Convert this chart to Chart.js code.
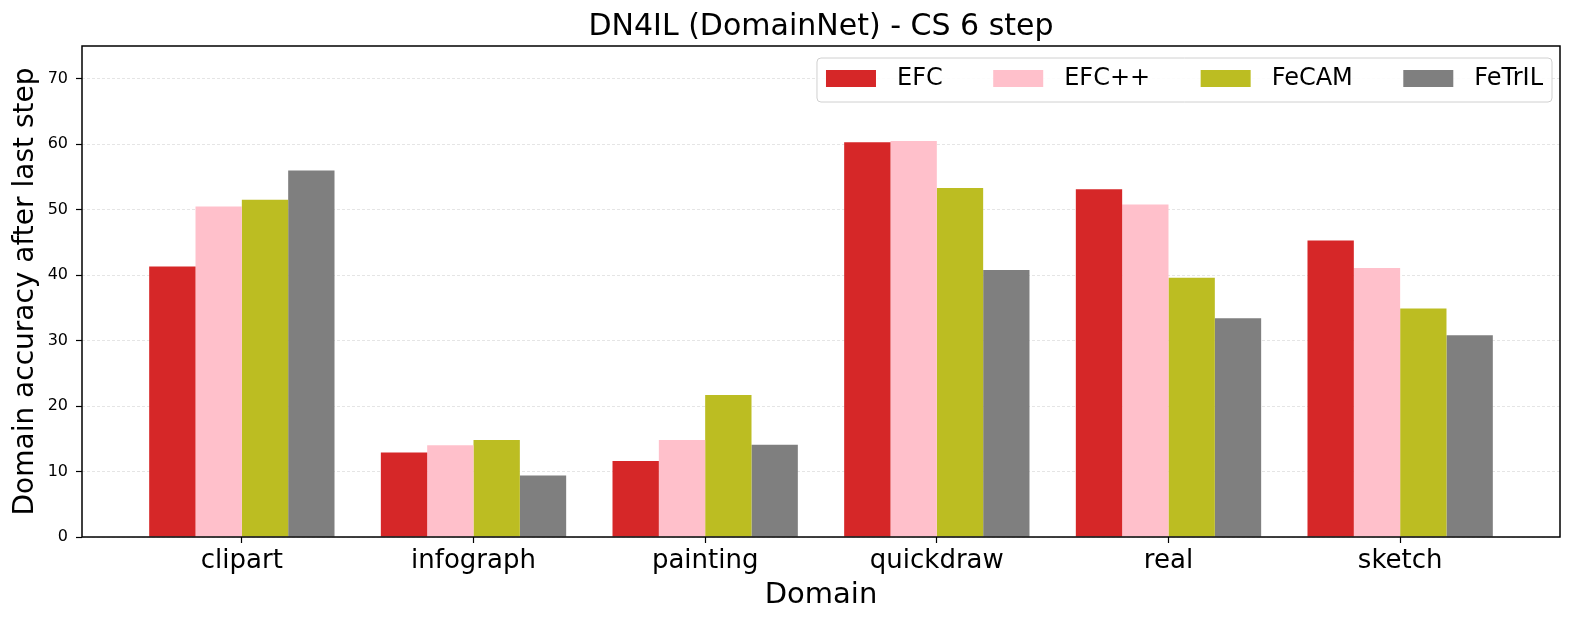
<!DOCTYPE html>
<html>
<head>
<meta charset="utf-8">
<script src="https://cdn.jsdelivr.net/npm/chart.js@4"></script>
<style>
  body { margin: 0; background: #fff; }
  #wrap { width: 1577px; height: 624px; }
</style>
</head>
<body>
<div id="wrap"><canvas id="chart"></canvas></div>
<script>
// DN4IL (DomainNet) - CS 6 step, accuracy per domain after the last step
const domains = ['clipart', 'infograph', 'painting', 'quickdraw', 'real', 'sketch'];
const efc    = [41.3, 12.9, 11.6, 60.3, 53.1, 45.3];
const efcpp  = [50.5, 14.0, 14.8, 60.5, 50.8, 41.1];
const fecam  = [51.5, 14.8, 21.7, 53.3, 39.6, 34.9];
const fetril = [56.0,  9.4, 14.1, 40.8, 33.4, 30.8];
const yTicks = [0, 10, 20, 30, 40, 50, 60, 70];
const chartTitle = 'DN4IL (DomainNet) - CS 6 step';

const FONT = '"DejaVu Sans", sans-serif';

function series(label, values, color) {
    return {
        label: label,
        data: values.map((v, i) => ({ x: i, y: v })),
        backgroundColor: color,
        borderWidth: 0,
        categoryPercentage: 0.8,
        barPercentage: 1.0
    };
}

// title centred over the plot, frame around the plot, legend box in the top right corner
const framePlugin = {
    id: 'frameAndLegend',
    afterDraw(chart) {
        const ctx = chart.ctx;
        const a = chart.chartArea;
        ctx.save();

        ctx.fillStyle = '#000';
        ctx.font = '30px ' + FONT;
        ctx.textAlign = 'center';
        ctx.textBaseline = 'middle';
        ctx.fillText(chartTitle, (a.left + a.right) / 2, 27);

        ctx.strokeStyle = '#000';
        ctx.lineWidth = 1.5;
        ctx.strokeRect(a.left, a.top, a.right - a.left, a.bottom - a.top);

        // legend
        ctx.font = '24px ' + FONT;
        const items = chart.data.datasets.map(ds => ({
            label: ds.label, color: ds.backgroundColor, w: ctx.measureText(ds.label).width
        }));
        const pad = 9, patchW = 50, patchH = 17, textGap = 21, itemGap = 50.5;
        let total = pad * 2 + itemGap * (items.length - 1);
        items.forEach(it => total += patchW + textGap + it.w);
        const boxH = 44;
        const right = a.right - 8;
        const left = right - total;
        const top = a.top + 12;

        ctx.beginPath();
        ctx.roundRect(left, top, total, boxH, 4);
        ctx.fillStyle = 'rgba(255,255,255,0.85)';
        ctx.fill();
        ctx.strokeStyle = '#d0d0d0';
        ctx.lineWidth = 1;
        ctx.stroke();

        let x = left + pad;
        const cy = top + 20.5;
        ctx.textBaseline = 'middle';
        ctx.textAlign = 'left';
        items.forEach(it => {
            ctx.fillStyle = it.color;
            ctx.fillRect(x, cy - patchH / 2, patchW, patchH);
            x += patchW + textGap;
            ctx.fillStyle = '#000';
            ctx.fillText(it.label, x, cy);
            x += it.w + itemGap;
        });
        ctx.restore();
    }
};

new Chart(document.getElementById('chart'), {
    type: 'bar',
    data: {
        datasets: [
            series('EFC', efc, '#d62728'),
            series('EFC++', efcpp, '#ffc0cb'),
            series('FeCAM', fecam, '#bcbd22'),
            series('FeTrIL', fetril, '#7f7f7f')
        ]
    },
    options: {
        responsive: true,
        maintainAspectRatio: false,
        animation: false,
        layout: { padding: { left: 0, right: 17, top: 46, bottom: 0 } },
        plugins: {
            legend: { display: false },
            tooltip: { enabled: false },
            title: { display: false }
        },
        scales: {
            x: {
                type: 'linear',
                min: -0.69,
                max: 5.69,
                offset: false,
                afterBuildTicks: s => { s.ticks = domains.map((_, i) => ({ value: i })); },
                afterFit: s => { s.height = 87; },
                ticks: {
                    autoSkip: false,
                    maxRotation: 0,
                    padding: 3,
                    color: '#000',
                    font: { family: FONT, size: 26 },
                    callback: v => domains[v]
                },
                grid: {
                    offset: false,
                    drawOnChartArea: false,
                    drawTicks: true,
                    tickLength: 6,
                    tickColor: '#000',
                    tickWidth: 1.2
                },
                border: { display: false },
                title: {
                    display: true,
                    text: 'Domain',
                    color: '#000',
                    font: { family: FONT, size: 29 },
                    padding: { top: 0, bottom: 11 }
                }
            },
            y: {
                min: 0,
                max: 75,
                afterBuildTicks: s => { s.ticks = yTicks.map(v => ({ value: v })); },
                afterFit: s => { s.width = 82; },
                ticks: {
                    padding: 8,
                    color: '#000',
                    font: { family: FONT, size: 16 }
                },
                grid: {
                    color: 'rgba(0,0,0,0.13)',
                    lineWidth: 0.8,
                    tickLength: 6,
                    tickColor: '#000',
                    tickWidth: 1.2
                },
                border: { display: false, dash: [3, 2] },
                title: {
                    display: true,
                    text: 'Domain accuracy after last step',
                    color: '#000',
                    font: { family: FONT, size: 28 },
                    padding: { top: 9, bottom: 0 }
                }
            }
        }
    },
    plugins: [framePlugin]
});
</script>
</body>
</html>
